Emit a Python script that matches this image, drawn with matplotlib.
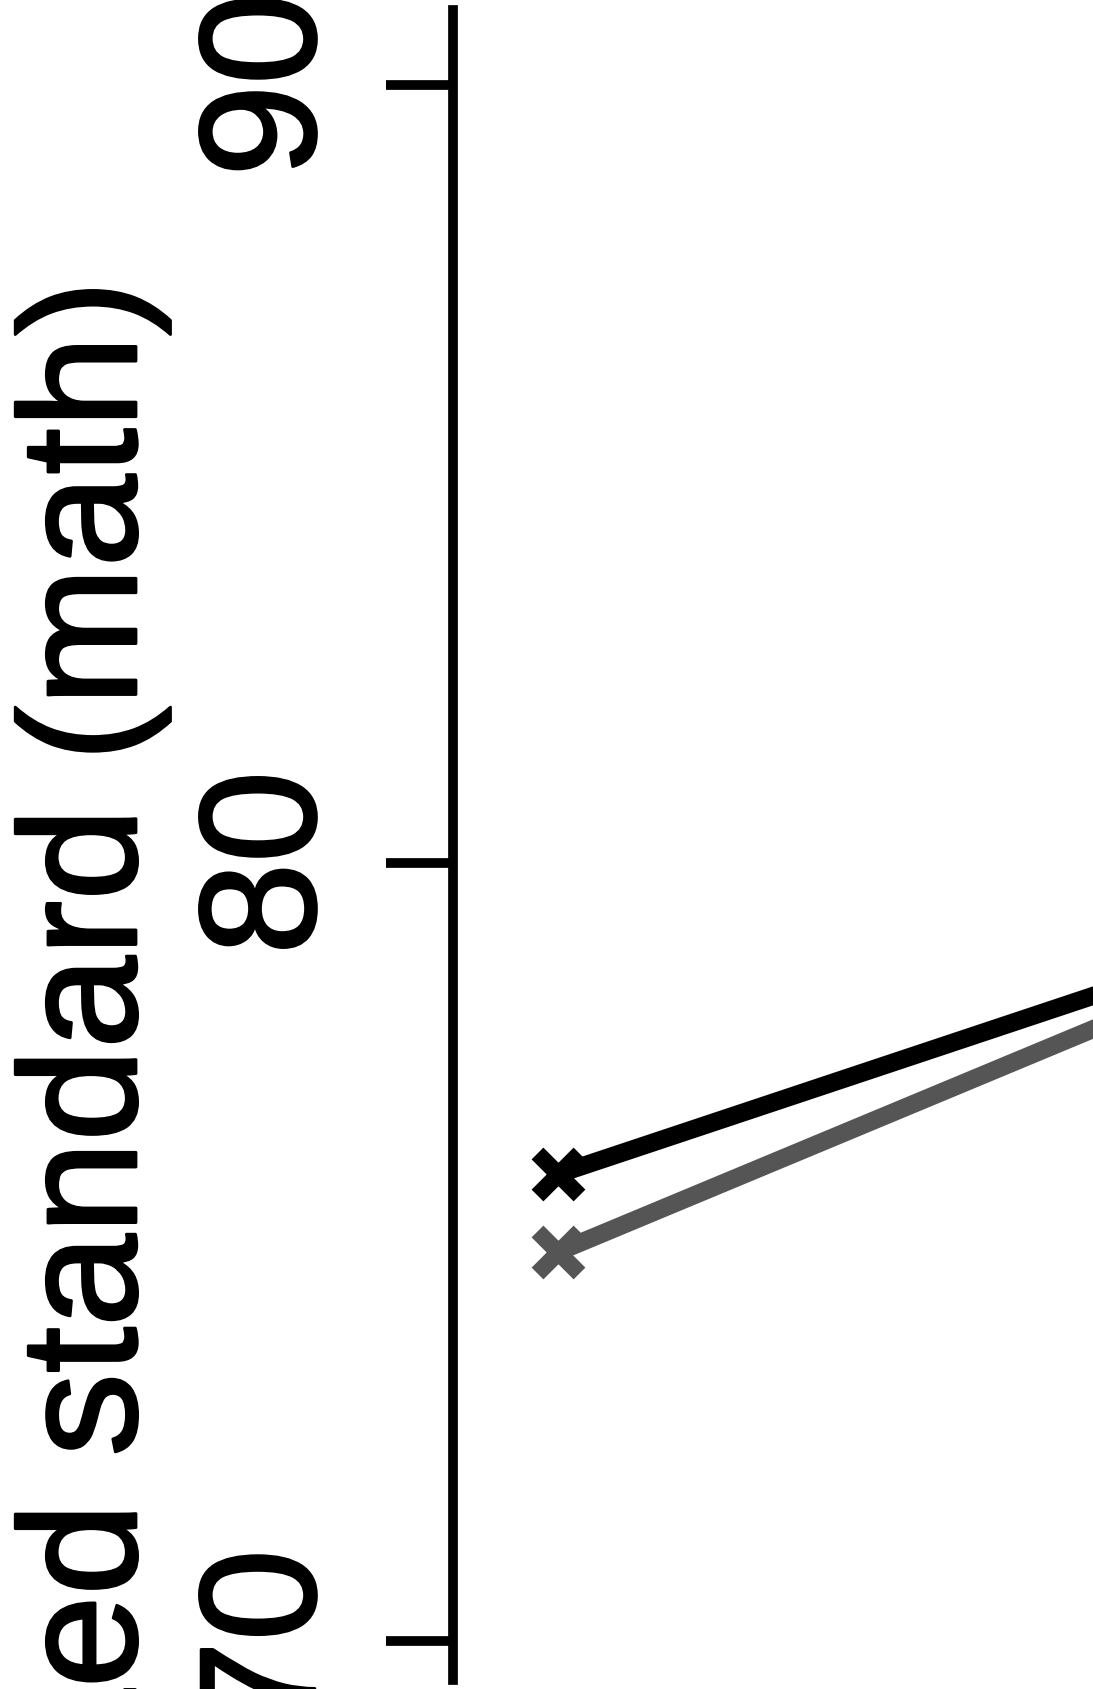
import matplotlib
matplotlib.use("Agg")
from matplotlib import pyplot as plt
import matplotlib.patheffects as pe

# data
x_pos = [0, 1]
series_black = [76, 80]
series_gray = [75, 80]
y_ticks = [70, 80, 90]
y_label = "% reaching expected standard (math)"

plt.rcParams['font.family'] = ['Liberation Sans', 'DejaVu Sans']

fig = plt.figure(figsize=(10.93, 16.89), dpi=100)
ax = fig.add_axes([453 / 1093, 9 / 1689, 1144 / 1093, 1670 / 1689])

ax.plot(x_pos, series_black, color="black", linewidth=13, marker="x",
        markersize=30, markeredgewidth=12, zorder=3, clip_on=False)
ax.plot(x_pos, series_gray, color="#555555", linewidth=13, marker="x",
        markersize=30, markeredgewidth=12, zorder=2, clip_on=False)

ax.set_xlim(-0.1124, 1.1124)
ax.set_ylim(69.5, 90.96)

for side in ["top", "right", "bottom"]:
    ax.spines[side].set_visible(False)
ax.spines["left"].set_linewidth(7)
ax.set_xticks([])
ax.set_yticks(y_ticks)
ax.set_yticklabels([str(t) for t in y_ticks], rotation=90, va="center")
ax.tick_params(axis="y", length=48, width=7, pad=27, labelsize=119)

# slightly heavier strokes on the text
bold = [pe.withStroke(linewidth=2, foreground="black")]
for lab in ax.get_yticklabels():
    lab.set_path_effects(bold)

# y label placed by hand, it runs off the bottom of the figure
fig.text(136 / 1093, (1689 - 280) / 1689, y_label, rotation=90,
         rotation_mode="anchor", ha="right", va="baseline", fontsize=120,
         path_effects=bold)

plt.savefig("out.png", dpi=100)
plt.close()
